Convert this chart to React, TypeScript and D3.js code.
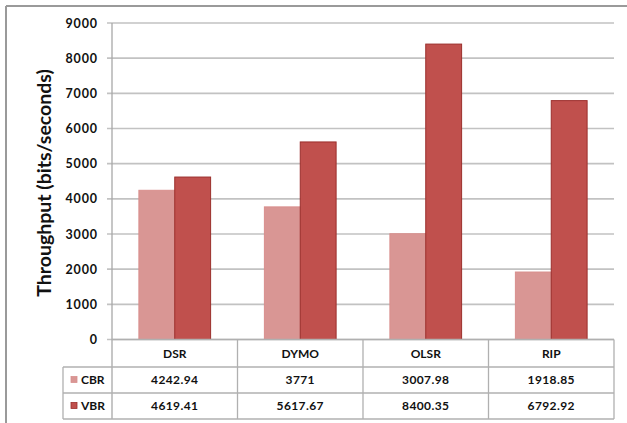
import React from "react";
import * as d3 from "d3";

const protocols = ["DSR", "DYMO", "OLSR", "RIP"];
const seriesNames = ["CBR", "VBR"];
const cbrValues = [4242.94, 3771, 3007.98, 1918.85];
const vbrValues = [4619.41, 5617.67, 8400.35, 6792.92];
const cbrLabels = ["4242.94", "3771", "3007.98", "1918.85"];
const vbrLabels = ["4619.41", "5617.67", "8400.35", "6792.92"];
const yTicks = [0, 1000, 2000, 3000, 4000, 5000, 6000, 7000, 8000, 9000];

const W = 627;
const H = 423;
const left = 112;
const right = 614;
const top = 23;
const zeroY = 339.5;
const rowEdges = [339.5, 367, 393, 419];
const legendLeft = 63;

const fills = ["#d99694", "#c0504d"];
const strokes = ["#d88f8d", "#9b2f2c"];
const font = "Lato, 'Open Sans', sans-serif";

export default function App() {
  const x = d3.scaleBand<string>().domain(protocols).range([left, right]);
  const inner = d3
    .scaleBand<string>()
    .domain(seriesNames)
    .range([0, x.bandwidth()])
    .paddingOuter(0.75);
  const y = d3.scaleLinear().domain([0, 9000]).range([zeroY, top]);
  const values = [cbrValues, vbrValues];
  const labels = [cbrLabels, vbrLabels];

  return (
    <svg
      width={W}
      height={H}
      style={{ position: "absolute", left: 0, top: 0, background: "#fff" }}
      fontFamily={font}
    >
      {/* outer frame */}
      <line x1={6} x2={W} y1={6} y2={6} stroke="#9a9a9a" strokeWidth={2} />
      <line x1={6} x2={6} y1={6} y2={H} stroke="#9a9a9a" strokeWidth={2} />

      {/* gridlines */}
      {yTicks.map((t) => (
        <line
          key={t}
          x1={left - 5}
          x2={right}
          y1={y(t)}
          y2={y(t)}
          stroke="#c2c2c2"
          strokeWidth={1.7}
        />
      ))}

      {/* y tick labels */}
      {yTicks.map((t) => (
        <text
          key={"l" + t}
          x={98}
          y={y(t)}
          dy="0.36em"
          textAnchor="end"
          fontSize={12.5}
          fontWeight={700}
          letterSpacing={0.9}
          fill="#111"
        >
          {t}
        </text>
      ))}

      {/* y axis title */}
      <text
        transform={`translate(51,${(68 + 298) / 2}) rotate(-90)`}
        textAnchor="middle"
        fontSize={19.5}
        fontWeight={700}
        fill="#111"
      >
        Throughput (bits/seconds)
      </text>

      {/* bars */}
      {protocols.map((p, i) =>
        seriesNames.map((s, k) => {
          const bx = (x(p) as number) + (inner(s) as number);
          const by = y(values[k][i]);
          return (
            <rect
              key={p + s}
              x={bx}
              y={by}
              width={inner.bandwidth()}
              height={zeroY - by}
              fill={fills[k]}
              stroke={strokes[k]}
              strokeWidth={1}
            />
          );
        })
      )}

      {/* data table */}
      <g stroke="#b0b0b0" strokeWidth={1.3}>
        <line x1={left} x2={left} y1={top} y2={rowEdges[3]} stroke="#a8a8a8" />
        {protocols.map((p) => (
          <line
            key={"v" + p}
            x1={(x(p) as number) + x.bandwidth()}
            x2={(x(p) as number) + x.bandwidth()}
            y1={rowEdges[0]}
            y2={rowEdges[3]}
          />
        ))}
        <line x1={legendLeft} x2={legendLeft} y1={rowEdges[1]} y2={rowEdges[3]} />
        <line x1={left} x2={right} y1={rowEdges[0]} y2={rowEdges[0]} />
        {rowEdges.slice(1).map((ry) => (
          <line key={"h" + ry} x1={legendLeft} x2={right} y1={ry} y2={ry} />
        ))}
      </g>

      {protocols.map((p) => (
        <text
          key={"c" + p}
          x={(x(p) as number) + x.bandwidth() / 2}
          y={(rowEdges[0] + rowEdges[1]) / 2}
          dy="0.36em"
          textAnchor="middle"
          fontSize={12}
          fontWeight={700}
          fill="#111"
        >
          {p}
        </text>
      ))}

      {seriesNames.map((s, k) => {
        const cy = (rowEdges[k + 1] + rowEdges[k + 2]) / 2;
        return (
          <g key={"row" + s}>
            <rect x={71} y={cy - 3.5} width={6} height={6} fill={fills[k]} stroke={strokes[k]} strokeWidth={0.8} />
            <text x={81} y={cy} dy="0.36em" fontSize={12} fontWeight={700} fill="#111">
              {s}
            </text>
            {protocols.map((p, i) => (
              <text
                key={s + p}
                x={(x(p) as number) + x.bandwidth() / 2}
                y={cy}
                dy="0.36em"
                textAnchor="middle"
                fontSize={12}
                fontWeight={700}
                letterSpacing={0.4}
                fill="#111"
              >
                {labels[k][i]}
              </text>
            ))}
          </g>
        );
      })}
    </svg>
  );
}
